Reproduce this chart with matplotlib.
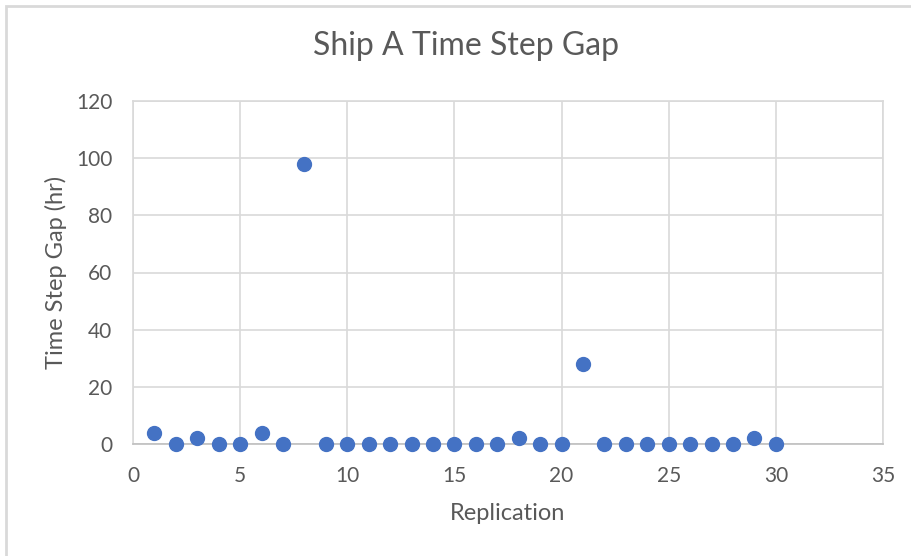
import matplotlib
matplotlib.use("Agg")
from matplotlib import pyplot as plt
from matplotlib.patches import Rectangle

replication = list(range(1, 31))
gap_hr = [4, 0, 2, 0, 0, 4, 0, 98, 0, 0,
          0, 0, 0, 0, 0, 0, 0, 2, 0, 0,
          28, 0, 0, 0, 0, 0, 0, 0, 2, 0]

x_ticks = [0, 5, 10, 15, 20, 25, 30, 35]
y_ticks = [0, 20, 40, 60, 80, 100, 120]

text_color = "#595959"
grid_color = "#D9D9D9"
point_color = "#4472C4"

plt.rcParams['font.family'] = ['Lato', 'DejaVu Sans']

fig = plt.figure(figsize=(9.12, 5.56), dpi=100)
ax = fig.add_axes([133 / 912, 1 - 444 / 556, 750 / 912, 343 / 556])

# chart frame, running off the right and bottom edges
fig.patches.append(Rectangle((6 / 912, -0.05), 1.0, 1 - 6 / 556 + 0.05,
                             transform=fig.transFigure, fill=False,
                             edgecolor="#D9D9D9", linewidth=2))

ax.plot(replication, gap_hr, linestyle="none", marker="o",
        markersize=10, color=point_color, zorder=3, clip_on=False)

ax.set_xlim(0, 35)
ax.set_ylim(0, 120)
ax.set_xticks(x_ticks)
ax.set_yticks(y_ticks)
ax.grid(True, color=grid_color, linewidth=1.2)
ax.set_axisbelow(True)
ax.tick_params(axis="x", length=0, labelsize=15, colors=text_color, pad=16)
ax.tick_params(axis="y", length=0, labelsize=15, colors=text_color, pad=15)

for name, sp in ax.spines.items():
    sp.set_color(grid_color)
    sp.set_linewidth(1.2)
ax.spines["bottom"].set_color("#BFBFBF")

fig.text(466 / 912, 1 - 46 / 556, "Ship A Time Step Gap", fontsize=23,
         color=text_color, ha="center", va="center")
ax.set_xlabel("Replication", fontsize=17, color=text_color, labelpad=12)
ax.set_ylabel("Time Step Gap (hr)", fontsize=17, color=text_color, labelpad=6)

fig.savefig("out.png", dpi=100)
